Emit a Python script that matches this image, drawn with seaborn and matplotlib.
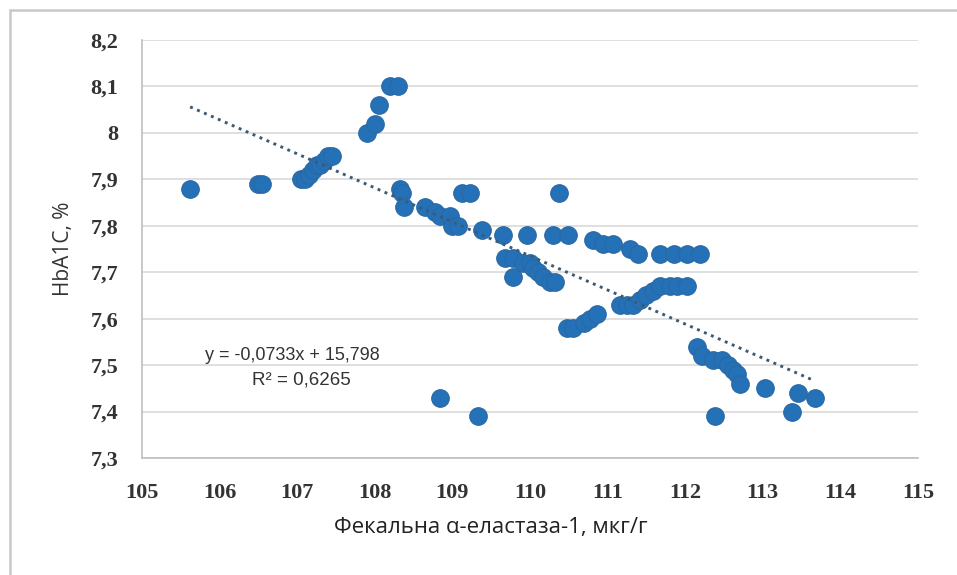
import numpy as np
import pandas as pd
import matplotlib
matplotlib.use("Agg")
import matplotlib.pyplot as plt
import seaborn as sns
from matplotlib.patches import Rectangle
from matplotlib.ticker import FuncFormatter

# values
elastase = [105.62, 106.49, 106.55,
            107.05, 107.1, 107.15, 107.2, 107.25, 107.3, 107.35, 107.4, 107.45,
            107.9, 108.0, 108.05, 108.2, 108.3,
            108.33, 108.35, 108.38, 108.65, 108.78, 108.84, 108.97, 109.0, 109.07,
            109.12, 109.23, 109.38, 109.65, 109.96, 110.3, 110.37, 110.49,
            109.68, 109.78, 109.78, 109.91, 110.0, 110.04, 110.1, 110.17, 110.26, 110.32,
            110.48, 110.56, 110.69, 110.77, 110.86,
            110.81, 110.94, 111.07, 111.29, 111.39, 111.68, 111.85, 112.02, 112.19,
            111.16, 111.25, 111.33, 111.42, 111.5, 111.58, 111.68, 111.8, 111.9, 112.02,
            112.15, 112.22, 112.36, 112.47, 112.55, 112.62, 112.67, 112.71,
            113.03, 113.45, 113.67, 113.38, 112.38, 108.84, 109.33]
hba1c = [7.88, 7.89, 7.89,
         7.90, 7.90, 7.91, 7.92, 7.93, 7.93, 7.94, 7.95, 7.95,
         8.00, 8.02, 8.06, 8.10, 8.10,
         7.88, 7.87, 7.84, 7.84, 7.83, 7.82, 7.82, 7.80, 7.80,
         7.87, 7.87, 7.79, 7.78, 7.78, 7.78, 7.87, 7.78,
         7.73, 7.73, 7.69, 7.72, 7.72, 7.71, 7.70, 7.69, 7.68, 7.68,
         7.58, 7.58, 7.59, 7.60, 7.61,
         7.77, 7.76, 7.76, 7.75, 7.74, 7.74, 7.74, 7.74, 7.74,
         7.63, 7.63, 7.63, 7.64, 7.65, 7.66, 7.67, 7.67, 7.67, 7.67,
         7.54, 7.52, 7.51, 7.51, 7.50, 7.49, 7.48, 7.46,
         7.45, 7.44, 7.43, 7.40, 7.39, 7.43, 7.39]

slope = -0.0733
intercept = 15.798
r2 = 0.6265
trend_x = [105.62, 113.67]

df = pd.DataFrame({"x": elastase, "y": hba1c})

sns.set_style("white")
fig = plt.figure(figsize=(9.57, 5.75), dpi=100)
ax = fig.add_axes([0.1484, 0.2035, 0.8108, 0.7269])

# outer chart frame (bottom edge falls outside the image)
fig.patches.append(Rectangle((0.010, -0.1), 1.1, 1.083, transform=fig.transFigure,
                             fill=False, edgecolor="#c8c8c8", linewidth=1.8))

sns.scatterplot(data=df, x="x", y="y", ax=ax, s=160, color="#2471b8",
                edgecolor="#2a68a3", linewidth=0.8, zorder=3)

tx = np.array(trend_x)
ax.plot(tx, slope * tx + intercept, linestyle=(0, (1, 1.6)), linewidth=2.1,
        color="#3d5a73", zorder=4)

ax.set_xlim(105, 115)
ax.set_ylim(7.3, 8.2)
ax.set_xticks(np.arange(105, 116, 1))
ax.set_yticks(np.round(np.arange(7.3, 8.21, 0.1), 1))
ax.yaxis.set_major_formatter(FuncFormatter(lambda v, p: f"{v:g}".replace(".", ",")))
ax.grid(axis="y", color="#d9d9d9", linewidth=1.2)
ax.grid(axis="x", visible=False)
for s in ["top", "right"]:
    ax.spines[s].set_visible(False)
for s in ["left", "bottom"]:
    ax.spines[s].set_color("#bfbfbf")
    ax.spines[s].set_linewidth(1.2)
ax.tick_params(axis="both", length=5, color="#bfbfbf", width=1.2,
               labelsize=16, labelcolor="#333333")
ax.tick_params(axis="x", pad=13)
ax.tick_params(axis="y", pad=12)
for lab in ax.get_xticklabels() + ax.get_yticklabels():
    lab.set_family("Liberation Serif")
    lab.set_fontweight("bold")

ax.set_xlabel("Фекальна α-еластаза-1, мкг/г", fontsize=16, family="Open Sans",
              color="#222222")
ax.xaxis.set_label_coords(0.45, -0.142)
ax.set_ylabel("HbA1C, %", fontsize=15, family="Open Sans", color="#333333", labelpad=12)

ax.text(105.81, 7.521, f"y = {slope:.4f}x + {intercept:.3f}".replace(".", ","),
        fontsize=13, family="Liberation Sans", color="#333333", ha="left", va="center")
ax.text(106.42, 7.467, f"R² = {r2:.4f}".replace(".", ","),
        fontsize=13.5, family="Liberation Sans", color="#333333", ha="left", va="center")

fig.savefig("out.png", dpi=100)
